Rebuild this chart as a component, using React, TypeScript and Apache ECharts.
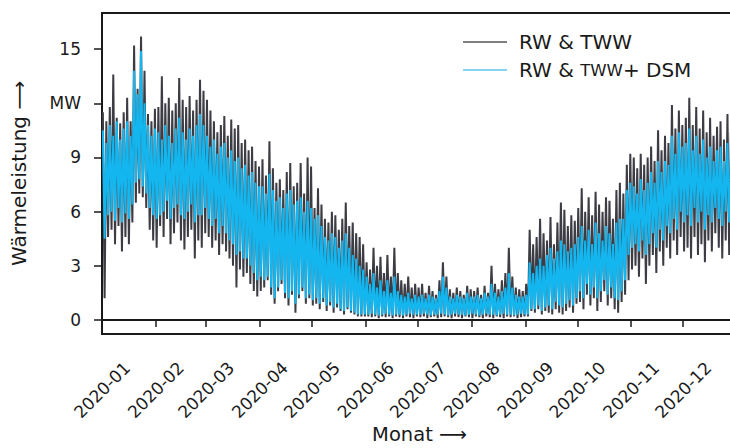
import React, { useEffect, useRef } from "react";
import * as echarts from "echarts";

const monthLabels = [
  "2020-01", "2020-02", "2020-03", "2020-04", "2020-05", "2020-06",
  "2020-07", "2020-08", "2020-09", "2020-10", "2020-11", "2020-12",
];
const monthStartDays = [0, 31, 60, 91, 121, 152, 182, 213, 244, 274, 305, 335];
const yTickValues = [0, 3, 6, 9, 12, 15];
const yTickLabels = ["0", "3", "6", "9", "MW", "15"];
const seriesNames = ["RW & TWW", "RW & TWW+ DSM"];
const sampleStepDays = 2;

// RW & TWW: peak of each 2-day step (MW)
const rwTwwHigh = [
  11.5, 11.0, 11.8, 13.6, 11.2, 10.9, 11.5, 12.3, 11.0, 15.2, 12.8, 15.7, 13.8, 11.4, 11.0, 11.7,
  11.8, 13.5, 12.0, 12.3, 11.6, 12.0, 13.4, 12.2, 11.8, 12.4, 11.6, 12.2, 13.3, 12.7,
  12.2, 11.6, 11.0, 10.4, 10.8, 11.3, 10.2, 11.1, 10.6, 10.8, 9.8, 10.0, 9.4, 9.6, 8.8, 8.5,
  8.9, 8.0, 9.9, 8.4, 7.6, 7.8, 7.2, 8.2, 8.7, 7.4, 7.6, 8.7, 7.0, 9.0, 8.5,
  6.2, 7.3, 6.4, 5.6, 5.4, 6.0, 5.8, 5.0, 5.6, 6.5, 5.2, 5.4, 4.8, 4.6, 4.2,
  3.2, 2.8, 4.0, 3.0, 3.5, 2.6, 3.6, 2.4, 4.0, 2.6, 2.2, 2.0, 2.4, 1.8, 2.0,
  1.8, 2.0, 1.5, 1.9, 1.6, 1.4, 2.2, 3.2, 2.4, 1.7, 1.5, 1.8, 1.6, 1.4, 1.9, 1.7,
  1.6, 1.8, 1.4, 1.9, 1.5, 3.0, 2.0, 1.7, 2.2, 2.6, 4.0, 2.4, 1.8, 1.7, 1.6,
  2.0, 5.0, 4.2, 4.6, 5.6, 4.8, 4.4, 5.7, 4.2, 5.4, 6.5, 6.1, 5.2, 5.8, 5.5,
  6.2, 7.3, 6.0, 6.8, 5.8, 7.1, 6.4, 6.0, 6.8, 6.6, 5.6, 7.2, 7.6, 7.0, 8.6, 9.2,
  9.0, 8.4, 9.2, 8.6, 9.0, 9.6, 8.8, 10.5, 9.4, 10.2, 9.8, 11.9, 10.6, 11.6, 10.8,
  11.2, 12.3, 10.8, 11.8, 10.6, 11.6, 10.4, 11.2, 10.2, 10.7, 11.0, 10.0, 11.4, 10.4, 9.8,
];
// RW & TWW: trough of each 2-day step (MW)
const rwTwwLow = [
  1.2, 4.6, 5.0, 4.2, 5.2, 3.8, 4.6, 4.2, 5.4, 6.5, 7.0, 6.8, 6.2, 5.0, 4.4, 4.0,
  5.2, 4.6, 5.6, 4.2, 4.8, 5.4, 4.4, 3.9, 4.6, 5.0, 3.4, 4.4, 4.0, 4.8,
  4.6, 4.0, 4.4, 3.6, 4.2, 3.8, 3.4, 3.0, 1.8, 2.8, 2.4, 2.6, 2.0, 1.6, 1.3, 1.6,
  1.8, 2.2, 1.4, 0.9, 1.6, 2.0, 1.2, 0.8, 1.4, 0.4, 1.2, 1.6, 0.9, 1.2, 0.8,
  0.9, 0.6, 1.0, 0.5, 0.8, 0.4, 0.7, 0.5, 0.3, 0.6, 0.4, 0.3, 0.2, 0.2, 0.2,
  0.2, 0.15, 0.2, 0.1, 0.2, 0.15, 0.2, 0.1, 0.2, 0.15, 0.1, 0.2, 0.15, 0.1, 0.2,
  0.15, 0.2, 0.1, 0.15, 0.2, 0.1, 0.15, 0.2, 0.15, 0.1, 0.2, 0.15, 0.1, 0.2, 0.15, 0.1,
  0.2, 0.15, 0.1, 0.2, 0.15, 0.1, 0.2, 0.15, 0.1, 0.2, 0.15, 0.2, 0.1, 0.15, 0.2,
  0.2, 0.5, 0.4, 0.6, 0.3, 0.5, 0.4, 0.3, 0.6, 0.4, 0.3, 0.5, 0.7, 0.4, 0.9,
  1.0, 0.6, 1.4, 0.8, 1.2, 0.5, 1.0, 1.6, 0.8, 1.2, 0.6, 0.4, 1.0, 1.4, 2.2, 2.8,
  3.0, 2.4, 3.4, 2.0, 3.0, 3.6, 2.6, 3.8, 3.0, 4.0, 3.4, 4.4, 3.6, 4.6, 3.8,
  4.0, 3.4, 4.6, 3.6, 4.2, 3.2, 4.4, 3.8, 4.8, 4.0, 3.4, 4.4, 3.6, 2.8, 3.2,
];
// RW & TWW + DSM: peak of each 2-day step (MW)
const dsmHigh = [
  10.5, 9.8, 10.8, 10.2, 11.0, 10.0, 10.6, 11.0, 10.2, 13.8, 12.5, 14.9, 12.0, 10.8, 10.2, 10.6,
  10.4, 10.0, 10.8, 10.2, 9.8, 10.6, 11.2, 10.4, 10.0, 10.6, 10.2, 10.8, 11.4, 10.8,
  10.2, 9.6, 10.0, 9.2, 9.6, 9.8, 9.0, 9.4, 8.8, 9.0, 8.4, 8.6, 8.0, 8.2, 7.6, 7.4,
  7.4, 7.0, 8.1, 7.2, 6.6, 6.8, 6.2, 7.0, 7.2, 6.4, 6.6, 6.8, 6.0, 6.6, 6.2,
  5.6, 5.8, 5.2, 4.6, 4.4, 4.8, 4.6, 4.0, 4.4, 4.8, 4.0, 3.6, 3.4, 3.0, 2.8,
  2.4, 2.0, 2.6, 1.8, 2.2, 1.6, 2.2, 1.5, 2.4, 1.6, 1.4, 1.3, 1.5, 1.2, 1.4,
  1.3, 1.4, 1.2, 1.4, 1.3, 1.2, 1.6, 2.4, 1.8, 1.3, 1.2, 1.4, 1.3, 1.2, 1.5, 1.3,
  1.3, 1.4, 1.2, 1.5, 1.3, 2.0, 1.5, 1.3, 1.6, 1.8, 2.6, 1.8, 1.4, 1.3, 1.3,
  1.4, 3.2, 2.6, 3.0, 3.4, 3.0, 3.6, 4.0, 3.4, 3.8, 4.4, 4.2, 3.8, 4.0, 4.2,
  4.6, 5.2, 4.4, 5.0, 4.2, 5.4, 4.8, 4.4, 5.2, 4.8, 4.2, 5.4, 5.6, 5.6, 7.2, 7.6,
  7.4, 7.0, 7.8, 7.2, 7.6, 8.2, 7.6, 8.8, 8.2, 8.8, 8.6, 10.2, 9.2, 10.4, 9.6,
  9.8, 10.6, 9.4, 10.2, 9.2, 10.0, 9.0, 9.6, 8.8, 9.4, 9.6, 8.8, 9.8, 9.0, 8.6,
];
// RW & TWW + DSM: trough of each 2-day step (MW)
const dsmLow = [
  4.5, 5.8, 6.0, 5.5, 6.2, 5.4, 5.9, 5.6, 6.4, 7.6, 7.8, 7.4, 7.0, 6.2, 5.8, 5.6,
  5.8, 6.0, 6.6, 5.6, 6.2, 6.4, 5.8, 5.6, 6.0, 6.4, 5.4, 5.8, 5.8, 6.2,
  5.6, 5.2, 5.6, 4.8, 5.2, 4.8, 4.4, 4.2, 3.6, 3.8, 3.4, 3.4, 3.0, 2.6, 2.2, 2.4,
  2.2, 2.4, 1.8, 1.2, 1.8, 2.2, 1.5, 1.2, 1.6, 0.9, 1.4, 1.8, 1.2, 1.4, 1.1,
  1.2, 0.9, 1.2, 0.8, 1.0, 0.7, 0.9, 0.6, 0.5, 0.7, 0.5, 0.4, 0.3, 0.3, 0.3,
  0.3, 0.35, 0.3, 0.25, 0.3, 0.35, 0.3, 0.25, 0.3, 0.3, 0.25, 0.3, 0.35, 0.3, 0.3,
  0.3, 0.35, 0.3, 0.25, 0.3, 0.3, 0.35, 0.3, 0.25, 0.3, 0.35, 0.3, 0.3, 0.25, 0.3, 0.35,
  0.3, 0.25, 0.3, 0.35, 0.3, 0.3, 0.25, 0.3, 0.35, 0.3, 0.3, 0.25, 0.3, 0.35, 0.3,
  0.3, 0.6, 0.6, 0.8, 0.5, 0.7, 0.8, 0.6, 1.0, 0.8, 0.7, 0.9, 1.1, 0.8, 1.2,
  1.6, 1.2, 2.0, 1.4, 1.8, 1.2, 1.6, 2.2, 1.4, 1.8, 1.2, 1.1, 1.6, 2.2, 3.6, 4.0,
  4.2, 3.8, 4.4, 3.6, 4.2, 4.8, 4.0, 5.0, 4.4, 5.2, 4.8, 5.6, 5.0, 6.0, 5.4,
  5.8, 5.2, 6.2, 5.4, 6.0, 5.0, 5.8, 5.4, 6.2, 5.6, 5.2, 6.0, 5.4, 4.8, 5.0,
];

function stepPoints(high: number[], low: number[]): number[][] {
  const pts: number[][] = [];
  for (let i = 0; i < high.length; i++) {
    const d = i * sampleStepDays;
    pts.push([d + 0.5, high[i]]);
    pts.push([d + 1.5, low[i]]);
  }
  return pts;
}

const FONT = "DejaVu Sans";
const INK = "#1a1a1a";

export default function App() {
  const ref = useRef<HTMLDivElement>(null);
  useEffect(() => {
    const chart = echarts.init(ref.current!, null, { renderer: "svg" });
    chart.setOption({
      animation: false,
      backgroundColor: "#ffffff",
      textStyle: { fontFamily: FONT, color: INK },
      grid: {
        left: 102, right: -7, top: 13, bottom: 114,
        outerBoundsMode: "none",
        containLabel: false,
        show: true, borderColor: INK, borderWidth: 2, backgroundColor: "transparent",
      },
      legend: {
        orient: "vertical",
        left: 458,
        top: 27,
        itemWidth: 44,
        itemHeight: 14,
        itemGap: 8,
        icon: "path://M0,6 L44,6 L44,7.5 L0,7.5 Z",
        data: [
          { name: seriesNames[0], itemStyle: { color: "#555558" } },
          { name: seriesNames[1], itemStyle: { color: "#5cc6ea" } },
        ],
        formatter: (name: string) =>
          name === seriesNames[1] ? "{a|RW & }{b|TWW}{a|+ DSM}" : "{a|" + name + "}",
        textStyle: {
          fontFamily: FONT,
          color: INK,
          padding: [0, 0, 0, 7],
          rich: {
            a: { fontFamily: FONT, fontSize: 20, color: INK, lineHeight: 24 },
            b: {
              fontFamily: FONT, fontSize: 16.5, color: INK, lineHeight: 16,
              verticalAlign: "bottom", padding: [0, 0, 3, 0],
            },
          },
        },
      },
      xAxis: {
        type: "value",
        min: 0,
        max: 366,
        name: "Monat ⟶",
        nameLocation: "middle",
        nameGap: 92,
        nameMoveOverlap: false,
        nameTextStyle: { fontFamily: FONT, fontSize: 19.5, color: INK, lineHeight: 16 },
        axisLine: { show: true, lineStyle: { color: INK, width: 2 } },
        axisTick: {
          show: true, inside: false, length: 7,
          customValues: monthStartDays,
          lineStyle: { color: INK, width: 1.5 },
        },
        axisLabel: {
          customValues: monthStartDays,
          formatter: (v: number) => monthLabels[monthStartDays.indexOf(v)] ?? "",
          rotate: 45,
          align: "center",
          verticalAlign: "middle",
          margin: 56,
          fontFamily: FONT,
          fontSize: 17,
          color: INK,
        },
        splitLine: { show: false },
      },
      yAxis: {
        type: "value",
        min: -0.775,
        max: 17.0,
        name: "Wärmeleistung ⟶",
        nameLocation: "middle",
        nameRotate: 90,
        nameGap: 73,
        nameMoveOverlap: false,
        nameTextStyle: { fontFamily: FONT, fontSize: 20, color: INK },
        axisLine: { show: true, lineStyle: { color: INK, width: 2 } },
        axisTick: {
          show: true, inside: false, length: 8,
          customValues: yTickValues,
          lineStyle: { color: INK, width: 1.5 },
        },
        axisLabel: {
          customValues: yTickValues,
          formatter: (v: number) => yTickLabels[yTickValues.indexOf(v)] ?? "",
          margin: 21,
          fontFamily: FONT,
          fontSize: 17,
          color: INK,
        },
        splitLine: { show: false },
      },
      series: [
        {
          name: seriesNames[0],
          type: "line",
          data: stepPoints(rwTwwHigh, rwTwwLow),
          symbol: "none",
          lineStyle: { color: "#3c3c44", width: 2 },
          itemStyle: { color: "#3c3c44" },
          z: 2,
        },
        {
          name: seriesNames[1],
          type: "line",
          data: stepPoints(dsmHigh, dsmLow),
          symbol: "none",
          lineStyle: { color: "#14b6f0", width: 2 },
          itemStyle: { color: "#14b6f0" },
          z: 3,
        },
      ],
    });
    return () => chart.dispose();
  }, []);
  return (
    <div
      ref={ref}
      style={{ position: "fixed", left: 0, top: 0, width: 730, height: 448 }}
    />
  );
}
